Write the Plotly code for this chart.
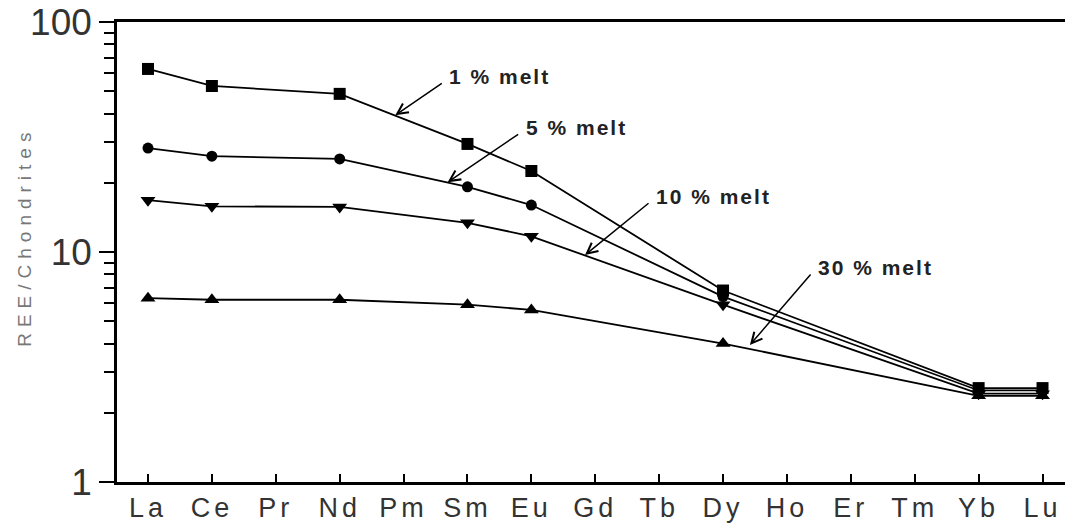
import math
import plotly.graph_objects as go

elements = ["La", "Ce", "Pr", "Nd", "Pm", "Sm", "Eu", "Gd", "Tb", "Dy", "Ho", "Er", "Tm", "Yb", "Lu"]
measured = ["La", "Ce", "Nd", "Sm", "Eu", "Dy", "Yb", "Lu"]

melt_1 = [62.5, 52.7, 48.7, 29.5, 22.5, 6.8, 2.56, 2.56]
melt_5 = [28.3, 26.1, 25.4, 19.2, 16.0, 6.4, 2.5, 2.5]
melt_10 = [16.8, 15.8, 15.7, 13.4, 11.7, 5.9, 2.42, 2.42]
melt_30 = [6.3, 6.2, 6.2, 5.9, 5.6, 4.0, 2.37, 2.37]

series = [
    ("1% melt", melt_1, "square", 12),
    ("5% melt", melt_5, "circle", 11),
    ("10% melt", melt_10, "triangle-down", 13),
    ("30% melt", melt_30, "triangle-up", 13),
]

# labels: (text, element position of arrow head, value at head, tail offset px)
labels = [
    ("1% melt", 3.87, 39.3, 48, -33),
    ("5% melt", 4.69, 20.1, 72, -49),
    ("10% melt", 6.84, 9.7, 65, -53),
    ("30% melt", 9.42, 3.94, 62, -72),
]

FONT = "Liberation Sans, Arial, Helvetica"

x_idx = [elements.index(e) for e in measured]

fig = go.Figure()
for name, vals, sym, sz in series:
    fig.add_trace(go.Scatter(
        x=x_idx, y=vals, mode="lines+markers", name=name,
        line=dict(color="black", width=1.8),
        marker=dict(symbol=sym, size=sz, color="black"),
        showlegend=False,
    ))

for text, hx, hy, ax, ay in labels:
    fig.add_annotation(
        x=hx, y=math.log10(hy), xref="x", yref="y",
        ax=ax, ay=ay, text="", showarrow=True,
        arrowhead=5, arrowsize=1.4, arrowwidth=1.5, arrowcolor="black",
    )
    fig.add_annotation(
        x=hx, y=math.log10(hy), xref="x", yref="y",
        xshift=ax + 4, yshift=-ay + 6,
        text='<span style="letter-spacing:2px"><b>' + text.replace("%", " %") + "</b></span>",
        showarrow=False, xanchor="left", yanchor="middle",
        font=dict(family=FONT, size=21, color="#222"),
    )

# y-axis title as rotated annotation
fig.add_annotation(
    x=0, y=0.533, xref="paper", yref="paper", xshift=-92,
    text='<span style="letter-spacing:6px">REE/Chondrites</span>',
    textangle=-90, showarrow=False, xanchor="center", yanchor="middle",
    font=dict(family=FONT, size=19, color="#777"),
)

fig.update_xaxes(
    range=[-0.485, 14.43],
    tickmode="array", tickvals=list(range(len(elements))),
    ticktext=['<span style="letter-spacing:4px">' + e + "</span>" for e in elements],
    ticks="inside", ticklen=8, tickwidth=1.5, tickcolor="black",
    showline=True, linewidth=2.5, linecolor="black", mirror=True,
    showgrid=False, zeroline=False,
    tickfont=dict(family=FONT, size=27, color="#333"),
)
fig.update_yaxes(
    type="log", range=[0, 2],
    tickmode="array", tickvals=[1, 10, 100], ticktext=["1", "10", "100"],
    ticks="outside", ticklen=15, tickwidth=1.5, tickcolor="black",
    ticklabeloverflow="allow",
    minor=dict(ticks="outside", ticklen=10, tickwidth=1.5, tickcolor="black",
               tickvals=[2, 3, 4, 5, 6, 7, 8, 9, 20, 30, 40, 50, 60, 70, 80, 90]),
    showline=True, linewidth=2.5, linecolor="black", mirror=True,
    showgrid=False, zeroline=False,
    tickfont=dict(family=FONT, size=37, color="#333"),
)
fig.update_layout(
    width=1065, height=517,
    margin=dict(l=109, r=3, t=14, b=43, autoexpand=False),
    plot_bgcolor="white", paper_bgcolor="white",
)
fig.write_html("out.html")
